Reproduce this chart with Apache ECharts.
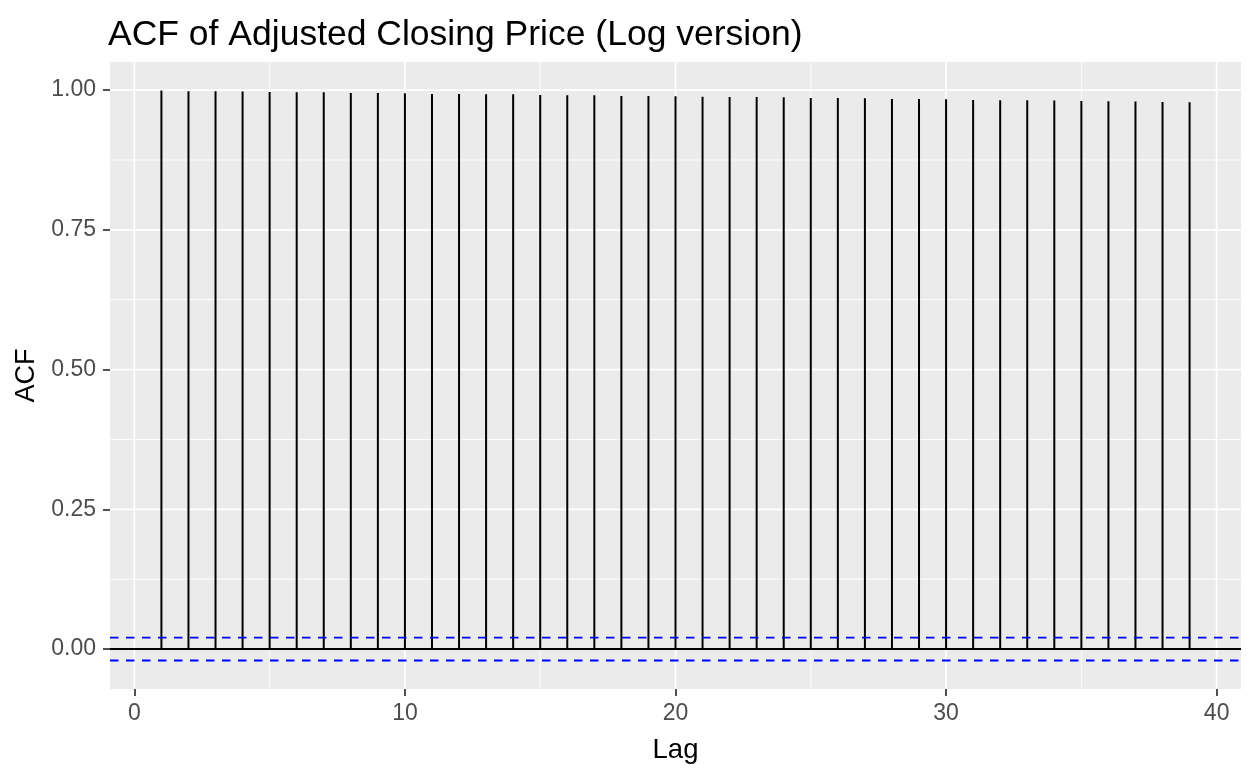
<!DOCTYPE html>
<html><head><meta charset="utf-8">
<script src="https://cdn.jsdelivr.net/npm/echarts@6/dist/echarts.min.js"></script>
<style>html,body{margin:0;padding:0;background:#fff}#c{width:1257px;height:777px}</style>
</head><body><div id="c"></div>
<script>
const lags = [1,2,3,4,5,6,7,8,9,10,11,12,13,14,15,16,17,18,19,20,21,22,23,24,25,26,27,28,29,30,31,32,33,34,35,36,37,38,39];
const acfValues = [0.9993,0.9981,0.9979,0.9977,0.9965,0.9963,0.9960,0.9950,0.9948,0.9945,0.9930,0.9929,0.9927,0.9925,0.9911,0.9909,0.9907,0.9895,0.9893,0.9890,0.9880,0.9878,0.9876,0.9873,0.9860,0.9858,0.9855,0.9842,0.9840,0.9838,0.9822,0.9820,0.9818,0.9815,0.9803,0.9801,0.9798,0.9786,0.9783];
const ciBound = 0.0205;
const xTicks = [0,10,20,30,40];
const xMinorTicks = [5,15,25,35];
const yTicks = [0,0.25,0.5,0.75,1.0];
const yMinorTicks = [0.125,0.375,0.625,0.875];
const titleText = 'ACF of Adjusted Closing Price (Log version)';
const xTitle = 'Lag';
const yTitle = 'ACF';

const FONT = "'Liberation Sans', Arial, sans-serif";
const xLo = Math.min(...lags), xHi = Math.max(...lags);
const xPad = (xHi - xLo) * 0.05;
const yLo = -ciBound, yHi = Math.max(...acfValues);
const yPad = (yHi - yLo) * 0.05;
const X_MIN = xLo - xPad, X_MAX = xHi + xPad;
const Y_MIN = yLo - yPad, Y_MAX = yHi + yPad;

function hLineSeries(values, style, z) {
  return {
    type: 'custom', z: z, silent: true, clip: false,
    data: values.map(v => [X_MIN, v]),
    renderItem: function (params, api) {
      const cs = params.coordSys;
      const y = api.coord([X_MIN, api.value(1)])[1];
      return { type: 'line', shape: { x1: cs.x, y1: y, x2: cs.x + cs.width, y2: y }, style: style };
    }
  };
}
function vLineSeries(values, style, z) {
  return {
    type: 'custom', z: z, silent: true, clip: false,
    data: values.map(v => [v, Y_MIN]),
    renderItem: function (params, api) {
      const cs = params.coordSys;
      const x = api.coord([api.value(0), Y_MIN])[0];
      return { type: 'line', shape: { x1: x, y1: cs.y, x2: x, y2: cs.y + cs.height }, style: style };
    }
  };
}

const majorStyle = { stroke: '#FFFFFF', lineWidth: 1.7 };
const minorStyle = { stroke: '#FFFFFF', lineWidth: 0.85 };

const chart = echarts.init(document.getElementById('c'), null, { renderer: 'canvas' });
chart.setOption({
  backgroundColor: '#FFFFFF',
  animation: false,
  title: {
    text: titleText, left: 103, top: 12,
    textStyle: { fontFamily: FONT, fontSize: 35.5, fontWeight: 'normal', color: '#000000' }
  },
  grid: { left: 110, right: 16, top: 62, bottom: 88, containLabel: false,
          show: true, backgroundColor: '#EBEBEB', borderWidth: 0 },
  xAxis: {
    type: 'value', min: X_MIN, max: X_MAX,
    name: xTitle, nameLocation: 'middle', nameGap: 47,
    nameTextStyle: { fontFamily: FONT, fontSize: 27.5, color: '#000000' },
    axisLine: { show: false, onZero: false },
    axisTick: { show: true, customValues: xTicks, length: 7, lineStyle: { color: '#333333', width: 1.7 } },
    axisLabel: { customValues: xTicks, fontFamily: FONT, fontSize: 23, color: '#4D4D4D', margin: 13,
                 formatter: v => String(v) },
    splitLine: { show: false }
  },
  yAxis: {
    type: 'value', min: Y_MIN, max: Y_MAX,
    name: yTitle, nameLocation: 'middle', nameGap: 61, nameRotate: 90,
    nameTextStyle: { fontFamily: FONT, fontSize: 27, color: '#000000' },
    axisLine: { show: false, onZero: false },
    axisTick: { show: true, customValues: yTicks, length: 7, lineStyle: { color: '#333333', width: 1.7 } },
    axisLabel: { customValues: yTicks, fontFamily: FONT, fontSize: 23, color: '#4D4D4D', margin: 14,
                 formatter: v => Number(v).toFixed(2) },
    splitLine: { show: false }
  },
  series: [
    hLineSeries(yMinorTicks, minorStyle, 1),
    vLineSeries(xMinorTicks, minorStyle, 1),
    hLineSeries(yTicks, majorStyle, 2),
    vLineSeries(xTicks, majorStyle, 2),
    hLineSeries([0], { stroke: '#000000', lineWidth: 2 }, 3),
    {
      type: 'custom', z: 4, silent: true,
      data: lags.map((l, i) => [l, acfValues[i]]),
      renderItem: function (params, api) {
        const p0 = api.coord([api.value(0), 0]);
        const p1 = api.coord([api.value(0), api.value(1)]);
        return { type: 'line', shape: { x1: p0[0], y1: p0[1], x2: p1[0], y2: p1[1] },
                 style: { stroke: '#000000', lineWidth: 2 } };
      }
    },
    hLineSeries([ciBound, -ciBound], { stroke: '#0000FF', lineWidth: 1.8, lineDash: [8.5, 7.5] }, 5)
  ]
});
</script>
</body></html>
